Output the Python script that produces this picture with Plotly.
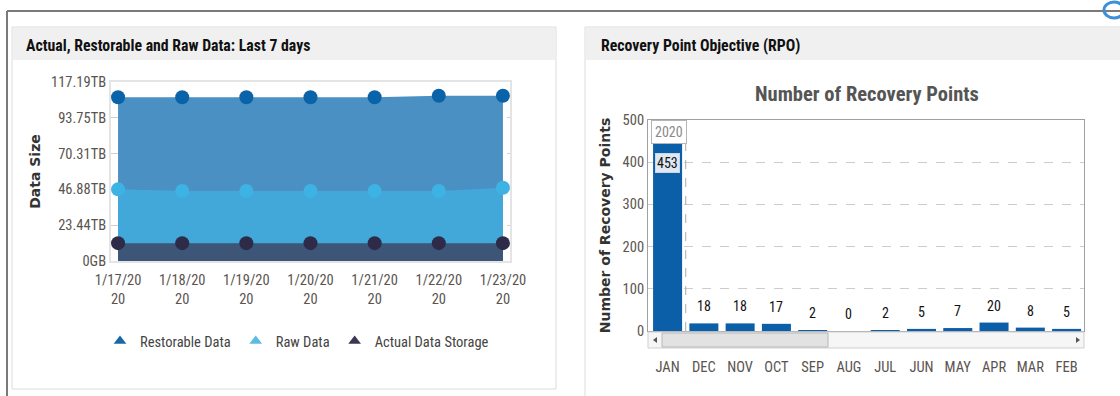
import plotly.graph_objects as go

# ---- data -------------------------------------------------------------
dates = ["1/17/2020", "1/18/2020", "1/19/2020", "1/20/2020",
         "1/21/2020", "1/22/2020", "1/23/2020"]
restorable_tb = [107.2, 107.2, 107.2, 107.2, 107.2, 108.2, 108.2]
raw_tb = [46.9, 45.8, 45.8, 45.8, 45.8, 45.8, 48.0]
actual_tb = [11.7, 11.7, 11.7, 11.7, 11.7, 11.7, 11.7]
size_ticks = [0, 23.44, 46.88, 70.31, 93.75, 117.19]
size_tick_text = ["0GB", "23.44TB", "46.88TB", "70.31TB", "93.75TB", "117.19TB"]

months = ["JAN", "DEC", "NOV", "OCT", "SEP", "AUG", "JUL",
          "JUN", "MAY", "APR", "MAR", "FEB"]
recovery_points = [453, 18, 18, 17, 2, 0, 2, 5, 7, 20, 8, 5]
year_label = "2020"

W, H = 1120, 396
FONT = "Liberation Sans Narrow, Arial Narrow, Roboto Condensed, Liberation Sans, sans-serif"
BOLD_AXIS = "DejaVu Sans, Verdana, sans-serif"


def px(x):
    return x / W


def py(y):
    return 1 - y / H


fig = go.Figure()

# ---- left: area chart ------------------------------------------------
series = [
    ("Restorable Data", restorable_tb, "#4a90c2", "#0a63a9"),
    ("Raw Data", raw_tb, "#42a8da", "#3db3e3"),
    ("Actual Data Storage", actual_tb, "#3d5576", "#2e2b48"),
]
for name, vals, fillc, markc in series:
    fig.add_trace(go.Scatter(
        x=dates, y=vals, name=name, mode="markers", fill="tozeroy",
        fillcolor=fillc, line=dict(width=0, color=fillc),
        marker=dict(size=14, color=markc), showlegend=False,
        xaxis="x", yaxis="y"))

legend_colors = ["#1a67a8", "#5bbbe3", "#3a3852"]
for (name, _, _, _), c in zip(series, legend_colors):
    fig.add_trace(go.Scatter(
        x=[None], y=[None], name=name, mode="markers",
        marker=dict(symbol="triangle-up", size=11, color=c),
        xaxis="x", yaxis="y"))

# ---- right: bar chart ------------------------------------------------
fig.add_trace(go.Bar(
    x=months, y=recovery_points, marker=dict(color="#0b5ea8", line=dict(width=0)),
    width=0.8, showlegend=False, xaxis="x2", yaxis="y2"))

annotations = []
for m, v in zip(months, recovery_points):
    if v > 100:
        annotations.append(dict(
            x=m, y=v, xref="x2", yref="y2", text=str(v), showarrow=False,
            yshift=-23, font=dict(family=FONT, size=14, color="#111"),
            bgcolor="#dfe8f2", bordercolor="#c9d6e4", borderwidth=1, borderpad=1))
    else:
        annotations.append(dict(
            x=m, y=v, xref="x2", yref="y2", text=str(v), showarrow=False,
            yshift=17, font=dict(family=FONT, size=14, color="#111")))

annotations.append(dict(
    x=0, y=1, xref="x2 domain", yref="y2 domain", xanchor="left", yanchor="top",
    xshift=3, yshift=0, text=year_label, showarrow=False,
    font=dict(family=FONT, size=14, color="#8a8a8a"),
    bgcolor="white", bordercolor="#b5b5b5", borderwidth=1, borderpad=3))

# panel headers and titles
annotations += [
    dict(x=px(24), y=py(45), xref="paper", yref="paper", xanchor="left",
         yanchor="middle", showarrow=False,
         text="<b>Actual, Restorable and Raw Data: Last 7 days</b>",
         font=dict(family=FONT, size=15.8, color="#111")),
    dict(x=px(599), y=py(45), xref="paper", yref="paper", xanchor="left",
         yanchor="middle", showarrow=False,
         text="<b>Recovery Point Objective (RPO)</b>",
         font=dict(family=FONT, size=15.8, color="#111")),
    dict(x=px(867), y=py(94), xref="paper", yref="paper", xanchor="center",
         yanchor="middle", showarrow=False,
         text="<b>Number of Recovery Points</b>",
         font=dict(family=FONT, size=20.5, color="#555")),
]

shapes = [
    # outer frame
    dict(type="line", xref="paper", yref="paper", x0=px(7), x1=1, y0=py(11), y1=py(11),
         line=dict(color="#7a7a7a", width=2)),
    dict(type="line", xref="paper", yref="paper", x0=px(7), x1=px(7), y0=py(11), y1=0,
         line=dict(color="#7a7a7a", width=2)),
    # left panel
    dict(type="rect", xref="paper", yref="paper", x0=px(12), x1=px(556), y0=py(389), y1=py(27),
         fillcolor="white", line=dict(color="#d8dce0", width=1), layer="below"),
    dict(type="rect", xref="paper", yref="paper", x0=px(13), x1=px(555), y0=py(60), y1=py(28),
         fillcolor="#f0f0f0", line=dict(width=0), layer="below"),
    # right panel
    dict(type="rect", xref="paper", yref="paper", x0=px(585), x1=px(1125), y0=py(400), y1=py(27),
         fillcolor="white", line=dict(color="#d8dce0", width=1), layer="below"),
    dict(type="rect", xref="paper", yref="paper", x0=px(586), x1=1, y0=py(60), y1=py(28),
         fillcolor="#f0f0f0", line=dict(width=0), layer="below"),
    # small refresh glyph in the corner
    dict(type="circle", xref="paper", yref="paper", x0=px(1104), x1=px(1124), y0=py(18), y1=py(2),
         fillcolor="rgba(0,0,0,0)", line=dict(color="#3d8fd6", width=3)),
    # year separator
    dict(type="line", xref="x2", yref="y2 domain", x0=0.5, x1=0.5, y0=0, y1=1,
         line=dict(color="#aaaaaa", width=1, dash="dash")),
    # scrollbar track, thumb and arrows
    dict(type="rect", xref="paper", yref="paper", x0=px(648), x1=px(1084), y0=py(348), y1=py(332),
         fillcolor="#f6f6f6", line=dict(color="#cfcfcf", width=1)),
    dict(type="rect", xref="paper", yref="paper", x0=px(662), x1=px(828), y0=py(347), y1=py(333),
         fillcolor="#e2e2e2", line=dict(color="#b8b8b8", width=1)),
    dict(type="path", xref="paper", yref="paper",
         path=f"M {px(653)},{py(340)} L {px(657)},{py(337)} L {px(657)},{py(343)} Z",
         fillcolor="#555", line=dict(width=0)),
    dict(type="path", xref="paper", yref="paper",
         path=f"M {px(1080)},{py(340)} L {px(1076)},{py(337)} L {px(1076)},{py(343)} Z",
         fillcolor="#555", line=dict(width=0)),
]

fig.update_layout(
    width=W, height=H, margin=dict(l=0, r=0, t=0, b=0, autoexpand=False),
    paper_bgcolor="white", plot_bgcolor="white",
    font=dict(family=FONT, size=13, color="#555"),
    showlegend=True,
    legend=dict(orientation="h", x=px(297), xanchor="center", y=py(341),
                yanchor="middle", font=dict(family=FONT, size=14.5, color="#444"),
                itemwidth=30, bgcolor="rgba(0,0,0,0)", traceorder="normal"),
    xaxis=dict(domain=[px(111), px(510)], anchor="y", type="category",
               range=[-0.11, 6.11], tickvals=dates, automargin=False,
               ticktext=[d[:7] + "<br>" + d[7:] for d in dates],
               showgrid=False, zeroline=False, showline=True, mirror=True,
               linecolor="#e4e4e4", linewidth=2, ticks="", ticklabelstandoff=5,
               tickfont=dict(family=FONT, size=14.5, color="#5a5450")),
    yaxis=dict(domain=[py(261), py(82)], anchor="x", range=[0, 117.19],
               tickvals=size_ticks, ticktext=size_tick_text, automargin=False,
               showgrid=True, gridcolor="#cfcfcf", griddash="dash", gridwidth=1,
               zeroline=False, showline=True, mirror=True,
               linecolor="#e4e4e4", linewidth=2, ticks="",
               tickfont=dict(family=FONT, size=14.5, color="#5a5450"),
               title=dict(text="<b>Data Size</b>", standoff=7,
                          font=dict(family=BOLD_AXIS, size=14, color="#333"))),
    xaxis2=dict(domain=[px(648), px(1084)], anchor="y2", type="category",
                range=[-0.54, 11.48], showgrid=False, zeroline=False,
                showline=True, mirror=True, linecolor="#a0a0a0", linewidth=1,
                ticks="", ticklabelstandoff=23, automargin=False,
                tickfont=dict(family=FONT, size=14.5, color="#5a5450")),
    yaxis2=dict(domain=[py(331), py(120)], anchor="x2", range=[0, 500],
                dtick=100, showgrid=True, gridcolor="#cccccc", griddash="dash",
                zeroline=False, showline=True, mirror=True, automargin=False,
                linecolor="#a0a0a0", linewidth=1, ticks="",
                tickfont=dict(family=FONT, size=14.5, color="#5a5450"),
                title=dict(text="<b>Number of Recovery Points</b>", standoff=8,
                           font=dict(family=BOLD_AXIS, size=14, color="#333"))),
    annotations=annotations, shapes=shapes,
)

fig.write_html("out.html")
